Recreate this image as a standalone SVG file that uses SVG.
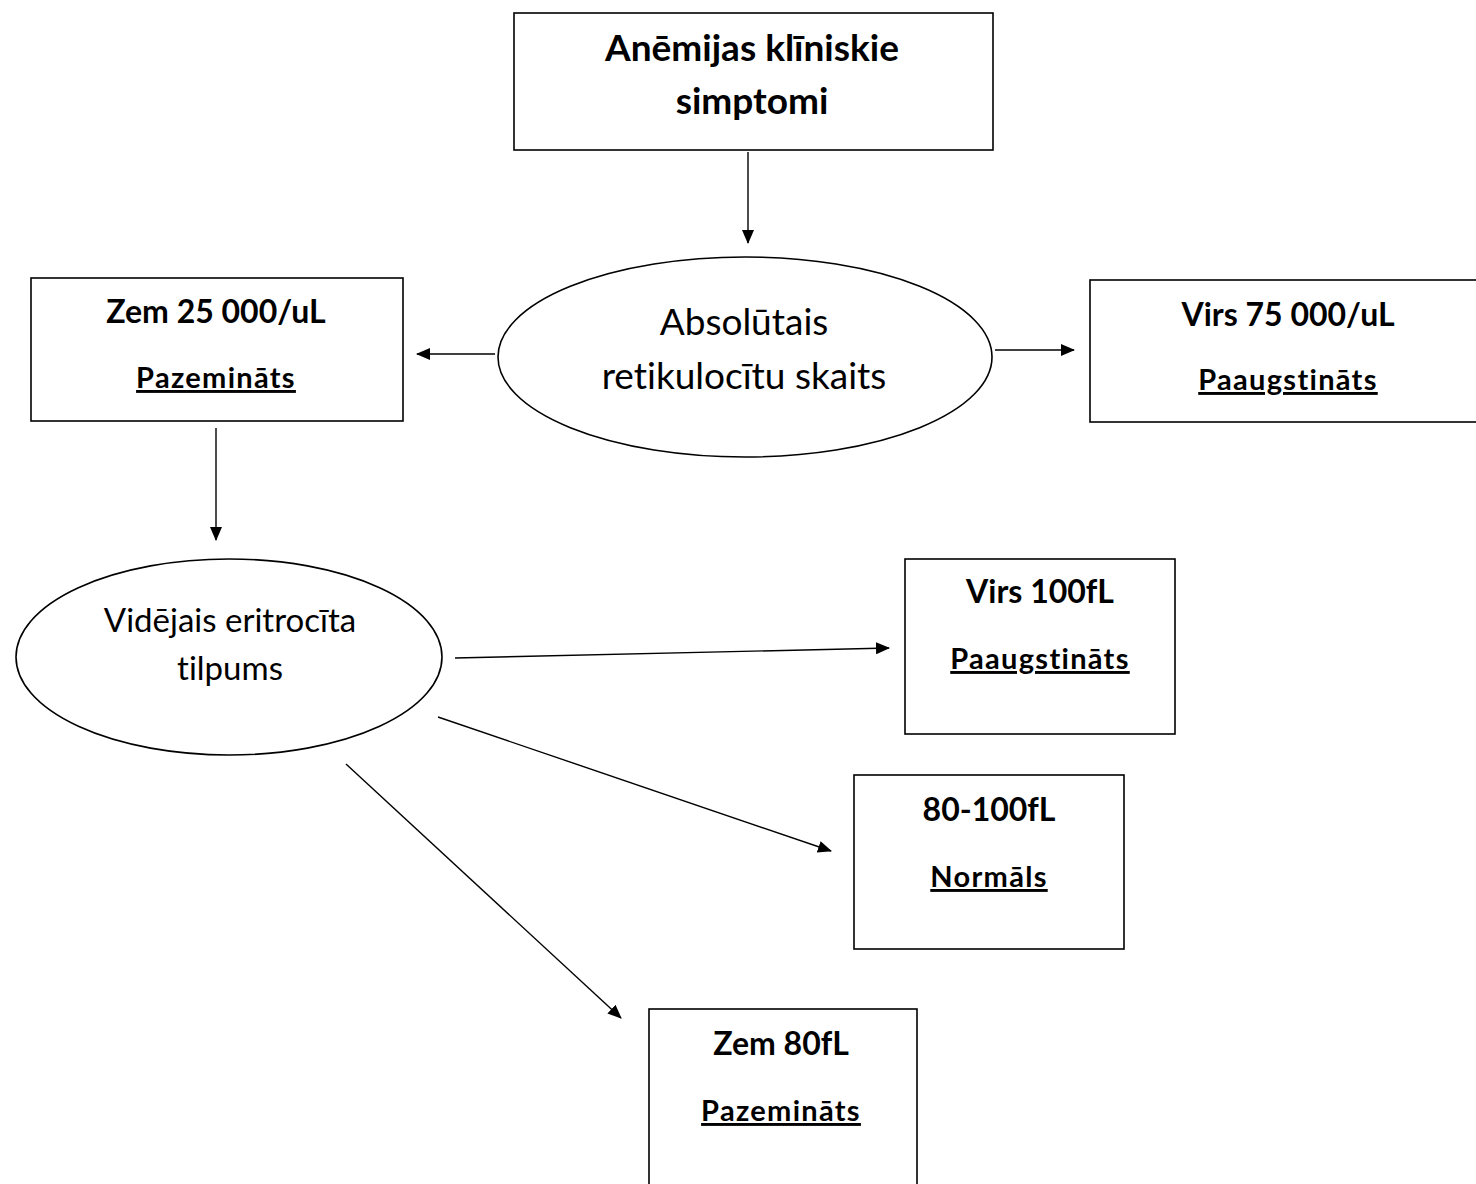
<svg xmlns="http://www.w3.org/2000/svg" width="1476" height="1184" viewBox="0 0 1476 1184">
<style>
.box{fill:#fff;stroke:#000;stroke-width:1.6}
.ell{fill:#fff;stroke:#000;stroke-width:1.6}
.c{stroke:#000;stroke-width:1.4;fill:none}
text{font-family:Lato,"Liberation Sans",sans-serif;fill:#000;text-anchor:middle;font-variant-ligatures:none}
.t1{font-size:37px;font-weight:bold}
.h{font-size:32px;font-weight:bold}
.u{font-size:29px;font-weight:bold;text-decoration:underline;letter-spacing:1.3px}
.r{font-size:37px}
.r2{font-size:33px}
</style>
<defs>
<marker id="ah" markerWidth="14" markerHeight="12" refX="13" refY="6" orient="auto" markerUnits="userSpaceOnUse">
<path d="M0,0 L14,6 L0,12 Z" fill="#000"/>
</marker>
</defs>
<rect width="1476" height="1184" fill="#fff"/>
<g id="connectors">
<line class="c" x1="748" y1="152" x2="748" y2="243" marker-end="url(#ah)"/>
<line class="c" x1="495" y1="354" x2="417" y2="354" marker-end="url(#ah)"/>
<line class="c" x1="995" y1="350" x2="1074" y2="350" marker-end="url(#ah)"/>
<line class="c" x1="216" y1="428" x2="216" y2="540" marker-end="url(#ah)"/>
<line class="c" x1="455" y1="658" x2="889" y2="648" marker-end="url(#ah)"/>
<line class="c" x1="438" y1="717" x2="831" y2="851" marker-end="url(#ah)"/>
<line class="c" x1="346" y1="764" x2="621" y2="1018" marker-end="url(#ah)"/>
</g>
<g id="n-symptoms">
<rect class="box" x="514" y="13" width="479" height="137"/>
<text class="t1" x="752" y="61">Anēmijas klīniskie</text>
<text class="t1" x="752" y="114">simptomi</text>
</g>
<g id="n-retic">
<ellipse class="ell" cx="745" cy="357" rx="247" ry="100"/>
<text class="r" x="744" y="335">Absolūtais</text>
<text class="r" x="744" y="389">retikulocītu skaits</text>
</g>
<g id="n-low">
<rect class="box" x="31" y="278" width="372" height="143"/>
<text class="h" x="216" y="323">Zem 25 000/uL</text>
<text class="u" x="216" y="388">Pazemināts</text>
</g>
<g id="n-high">
<rect class="box" x="1090" y="280" width="400" height="142"/>
<text class="h" x="1288" y="326">Virs 75 000/uL</text>
<text class="u" x="1288" y="390">Paaugstināts</text>
</g>
<g id="n-mcv">
<ellipse class="ell" cx="229" cy="657" rx="213" ry="98"/>
<text class="r2" x="230" y="632">Vidējais eritrocīta</text>
<text class="r2" x="230" y="680">tilpums</text>
</g>
<g id="n-mcv-high">
<rect class="box" x="905" y="559" width="270" height="175"/>
<text class="h" x="1040" y="603">Virs 100fL</text>
<text class="u" x="1040" y="669">Paaugstināts</text>
</g>
<g id="n-mcv-normal">
<rect class="box" x="854" y="775" width="270" height="174"/>
<text class="h" x="989" y="821">80-100fL</text>
<text class="u" x="989" y="887">Normāls</text>
</g>
<g id="n-mcv-low">
<rect class="box" x="649" y="1009" width="268" height="185"/>
<text class="h" x="781" y="1055">Zem 80fL</text>
<text class="u" x="781" y="1121">Pazemināts</text>
</g>
</svg>
